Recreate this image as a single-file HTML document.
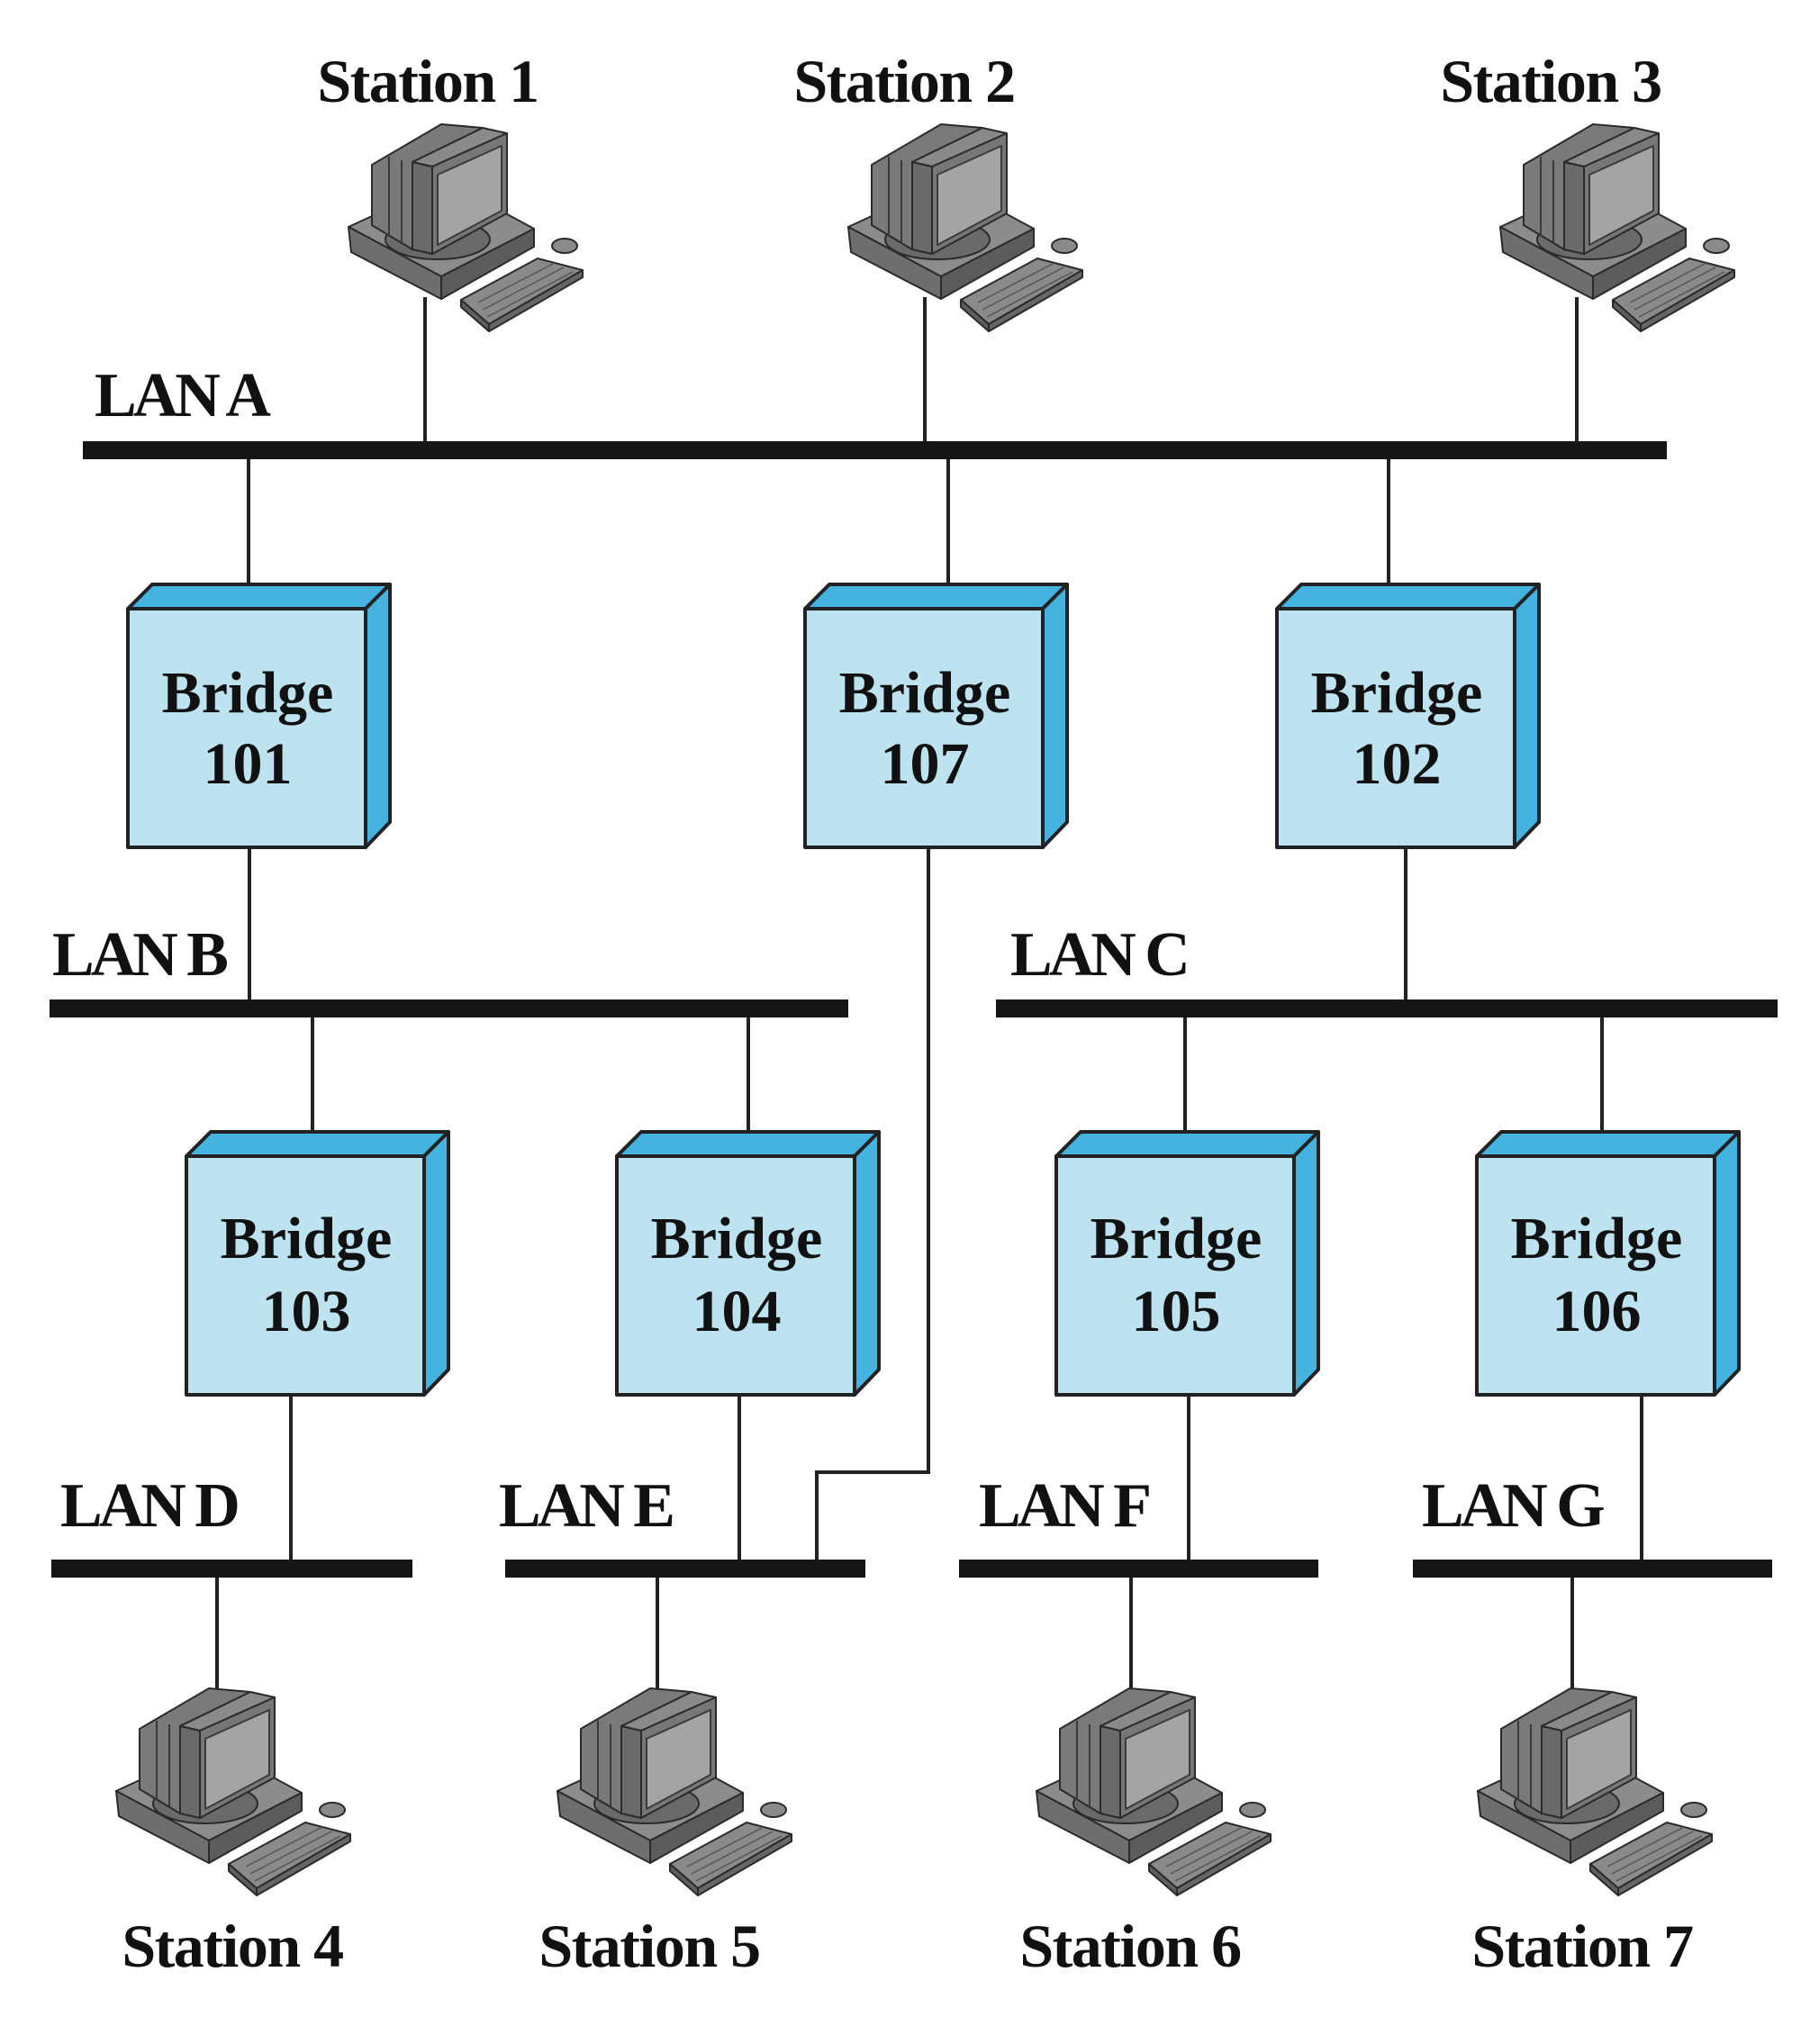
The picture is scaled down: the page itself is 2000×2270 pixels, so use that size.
<!DOCTYPE html>
<html><head><meta charset="utf-8"><style>
html,body{margin:0;padding:0;background:#fff;}
svg{display:block;}
text{font-family:"Liberation Serif",serif;font-weight:bold;fill:#111;}
</style></head><body>
<svg width="2000" height="2270" viewBox="0 0 2000 2270" xmlns="http://www.w3.org/2000/svg">
<defs>
<g id="pc" stroke="#2a2a2a" stroke-width="2" stroke-linejoin="round">
  <!-- base -->
  <polygon points="1,118 40,100 170,100 207,120 104,173" fill="#8c8c8c"/>
  <polygon points="1,118 104,173 104,198 4,146" fill="#6e6e6e"/>
  <polygon points="104,173 207,120 207,140 104,198" fill="#5c5c5c"/>
  <ellipse cx="100" cy="132" rx="58" ry="22" fill="#6a6a6a"/>
  <!-- monitor back -->
  <polygon points="27,49 104,4 150,8 72,46 72,143 27,116" fill="#7a7a7a"/>
  <line x1="46" y1="40" x2="46" y2="128" stroke="#3a3a3a"/>
  <line x1="60" y1="44" x2="60" y2="136" stroke="#3a3a3a"/>
  <!-- monitor front box -->
  <polygon points="72,46 150,8 177,14 94,51" fill="#8a8a8a"/>
  <polygon points="72,46 94,51 94,148 72,143" fill="#6a6a6a"/>
  <polygon points="94,51 177,14 177,103 94,148" fill="#777"/>
  <polygon points="100,60 171,28 171,100 100,138" fill="#a4a4a4" stroke="#3a3a3a"/>
  <!-- keyboard -->
  <polygon points="126,199 211,153 261,166 157,226" fill="#8a8a8a"/>
  <polygon points="126,199 157,226 157,234 126,207" fill="#5e5e5e"/>
  <polygon points="157,226 261,166 261,174 157,234" fill="#666"/>
  <line x1="145" y1="202" x2="230" y2="158" stroke="#555" stroke-width="1.5"/>
  <line x1="150" y1="210" x2="240" y2="163" stroke="#555" stroke-width="1.5"/>
  <line x1="155" y1="218" x2="250" y2="168" stroke="#555" stroke-width="1.5"/>
  <ellipse cx="241" cy="139" rx="14" ry="8" fill="#8a8a8a"/>
</g>
<g id="br" stroke="#222" stroke-width="4" stroke-linejoin="round">
  <polygon points="0,0 27,-27 291,-27 264,0" fill="#45b3e0"/>
  <polygon points="264,0 291,-27 291,237 264,265" fill="#45b3e0"/>
  <rect x="0" y="0" width="264" height="265" fill="#bde3f0"/>
</g>
</defs>

<g stroke="#222" stroke-width="4" fill="none">
  <!-- station lines top -->
  <line x1="472" y1="330" x2="472" y2="500"/>
  <line x1="1027" y1="330" x2="1027" y2="500"/>
  <line x1="1751" y1="330" x2="1751" y2="500"/>
  <!-- LAN A to bridges -->
  <line x1="276" y1="500" x2="276" y2="660"/>
  <line x1="1053" y1="500" x2="1053" y2="660"/>
  <line x1="1542" y1="500" x2="1542" y2="660"/>
  <!-- row1 bridges down -->
  <line x1="277" y1="940" x2="277" y2="1120"/>
  <polyline points="1031,940 1031,1635 907,1635 907,1742"/>
  <line x1="1561" y1="940" x2="1561" y2="1120"/>
  <!-- LAN B/C to row2 -->
  <line x1="347" y1="1120" x2="347" y2="1270"/>
  <line x1="831" y1="1120" x2="831" y2="1270"/>
  <line x1="1316" y1="1120" x2="1316" y2="1270"/>
  <line x1="1779" y1="1120" x2="1779" y2="1270"/>
  <!-- row2 down -->
  <line x1="323" y1="1547" x2="323" y2="1742"/>
  <line x1="821" y1="1547" x2="821" y2="1742"/>
  <line x1="1320" y1="1547" x2="1320" y2="1742"/>
  <line x1="1823" y1="1547" x2="1823" y2="1742"/>
  <!-- station lines bottom -->
  <line x1="241" y1="1742" x2="241" y2="1875"/>
  <line x1="730" y1="1742" x2="730" y2="1875"/>
  <line x1="1256" y1="1742" x2="1256" y2="1875"/>
  <line x1="1746" y1="1742" x2="1746" y2="1875"/>
</g>

<!-- LAN bars -->
<g fill="#151515">
  <rect x="92" y="490" width="1759" height="20"/>
  <rect x="55" y="1110" width="887" height="20"/>
  <rect x="1106" y="1110" width="868" height="20"/>
  <rect x="57" y="1732" width="401" height="20"/>
  <rect x="561" y="1732" width="400" height="20"/>
  <rect x="1065" y="1732" width="399" height="20"/>
  <rect x="1569" y="1732" width="399" height="20"/>
</g>

<!-- Bridges -->
<use href="#br" x="142" y="676"/>
<use href="#br" x="894" y="676"/>
<use href="#br" x="1418" y="676"/>
<use href="#br" x="207" y="1284"/>
<use href="#br" x="685" y="1284"/>
<use href="#br" x="1173" y="1284"/>
<use href="#br" x="1640" y="1284"/>

<g font-size="66" text-anchor="middle">
  <text x="275" y="791">Bridge</text><text x="275" y="870">101</text>
  <text x="1027" y="791">Bridge</text><text x="1027" y="870">107</text>
  <text x="1551" y="791">Bridge</text><text x="1551" y="870">102</text>
  <text x="340" y="1397">Bridge</text><text x="340" y="1478">103</text>
  <text x="818" y="1397">Bridge</text><text x="818" y="1478">104</text>
  <text x="1306" y="1397">Bridge</text><text x="1306" y="1478">105</text>
  <text x="1773" y="1397">Bridge</text><text x="1773" y="1478">106</text>
</g>

<!-- LAN labels -->
<g font-size="70" letter-spacing="-4">
  <text x="105" y="462">LAN A</text>
  <text x="58" y="1083">LAN B</text>
  <text x="1122" y="1083">LAN C</text>
  <text x="67" y="1695">LAN D</text>
  <text x="554" y="1695">LAN E</text>
  <text x="1087" y="1695">LAN F</text>
  <text x="1579" y="1695">LAN G</text>
</g>

<!-- Station labels -->
<g font-size="68" letter-spacing="-1.5" text-anchor="middle">
  <text x="475" y="113">Station 1</text>
  <text x="1004" y="113">Station 2</text>
  <text x="1722" y="113">Station 3</text>
  <text x="258" y="2184">Station 4</text>
  <text x="721" y="2184">Station 5</text>
  <text x="1255" y="2184">Station 6</text>
  <text x="1757" y="2184">Station 7</text>
</g>

<!-- Computers -->
<use href="#pc" x="386" y="134"/>
<use href="#pc" x="941" y="134"/>
<use href="#pc" x="1665" y="134"/>
<use href="#pc" x="128" y="1871"/>
<use href="#pc" x="618" y="1871"/>
<use href="#pc" x="1150" y="1871"/>
<use href="#pc" x="1640" y="1871"/>
</svg>
</body></html>
